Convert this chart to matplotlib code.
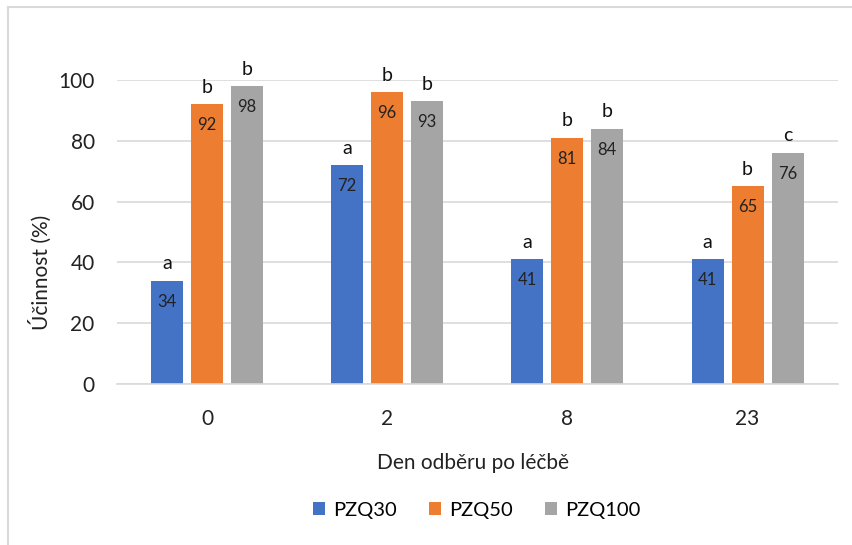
import matplotlib
matplotlib.use("Agg")
import matplotlib.pyplot as plt
import numpy as np
from matplotlib.lines import Line2D

plt.rcParams["font.family"] = ["Lato", "DejaVu Sans"]

# data
days = ["0", "2", "8", "23"]
series = ["PZQ30", "PZQ50", "PZQ100"]
pzq30 = [34, 72, 41, 41]
pzq50 = [92, 96, 81, 65]
pzq100 = [98, 93, 84, 76]
letters30 = ["a", "a", "a", "a"]
letters50 = ["b", "b", "b", "b"]
letters100 = ["b", "b", "b", "c"]

colors = ["#4472C4", "#ED7D31", "#A5A5A5"]
values = [pzq30, pzq50, pzq100]
letters = [letters30, letters50, letters100]

fig = plt.figure(figsize=(8.53, 5.45), dpi=100)
ax = fig.add_axes([0.137, 0.2954, 0.845, 0.5578])

x = np.arange(len(days))
width = 0.178
step = 0.222
for i, (vals, lets, col, name) in enumerate(zip(values, letters, colors, series)):
    pos = x + (i - 1) * step
    ax.bar(pos, vals, width, color=col, label=name, zorder=2)
    for px, v, l in zip(pos, vals, lets):
        ax.annotate(str(v), (px, v), xytext=(0, -21), textcoords="offset pixels",
                    ha="center", va="center", fontsize=12, color="#222222")
        ax.annotate(l, (px, v), xytext=(0, 17), textcoords="offset pixels",
                    ha="center", va="center", fontsize=14, color="#111111",
                    annotation_clip=False)

ax.set_xlim(-0.5, 3.5)
ax.set_ylim(0, 100)
ax.set_yticks([0, 20, 40, 60, 80, 100])
ax.set_xticks(x)
ax.set_xticklabels(days)
ax.tick_params(axis="both", length=0, labelsize=15, colors="#222222")
ax.tick_params(axis="x", pad=18)
ax.tick_params(axis="y", pad=16)
ax.grid(axis="y", color="#D9D9D9", linewidth=1.2, zorder=0)
for s in ["top", "right", "left"]:
    ax.spines[s].set_visible(False)
ax.spines["bottom"].set_color("#D9D9D9")
ax.spines["bottom"].set_linewidth(1.2)

fig.text(0.047, 0.5, "Účinnost (%)", rotation=90, ha="center", va="center",
         fontsize=15, color="#222222")
fig.text(0.555, 0.150, "Den odběru po léčbě", ha="center", va="center",
         fontsize=15, color="#222222")

leg = fig.legend(loc="center", bbox_to_anchor=(0.559, 0.064), ncol=3, frameon=False,
                 fontsize=14.5, handlelength=0.6, handleheight=0.6, columnspacing=1.6,
                 handletextpad=0.4)

# outer chart border (left and top visible)
fig.add_artist(Line2D([0.0088, 0.0088], [0, 0.987], color="#D9D9D9", lw=1.5))
fig.add_artist(Line2D([0.0088, 1], [0.987, 0.987], color="#D9D9D9", lw=1.5))

fig.savefig("out.png", dpi=100)
